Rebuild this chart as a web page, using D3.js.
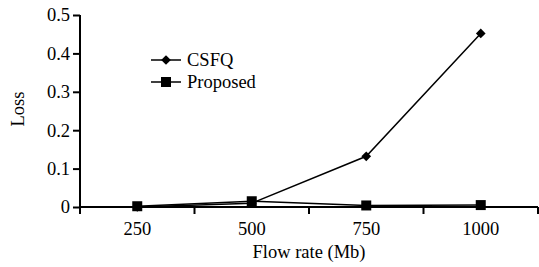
<!DOCTYPE html>
<html>
<head>
<meta charset="utf-8">
<script src="https://cdn.jsdelivr.net/npm/d3@7"></script>
<style>
  body { margin: 0; background: #fff; }
  text { font-family: "Liberation Serif", "Times New Roman", serif; fill: #000; }
</style>
</head>
<body>
<div id="chart"></div>
<script>
var categories = ["250", "500", "750", "1000"];
var csfq = [0.0, 0.01, 0.132, 0.452];
var proposed = [0.002, 0.015, 0.004, 0.005];
var yTicks = [0, 0.1, 0.2, 0.3, 0.4, 0.5];

var svgWidth = 539, svgHeight = 267;
var margin = { top: 15, right: 1, bottom: 60, left: 80 };
var width = svgWidth - margin.left - margin.right;
var height = svgHeight - margin.top - margin.bottom;
var fontSize = "18.5px";

var svg = d3.select("#chart").append("svg")
    .attr("width", svgWidth)
    .attr("height", svgHeight)
    .append("g")
    .attr("transform", "translate(" + margin.left + "," + margin.top + ")");

var x = d3.scaleBand().domain(categories).range([0, width]);
var y = d3.scaleLinear().domain([0, 0.5]).range([height, 0]);

// x axis: ticks on band edges, labels at band centres
var xAxis = svg.append("g").attr("transform", "translate(0," + height + ")");
xAxis.append("line").attr("x1", 0).attr("x2", width).attr("stroke", "#000").attr("stroke-width", 2);
var edges = categories.map(function(c) { return x(c); }).concat([width]);
xAxis.selectAll(".xt").data(edges).enter().append("line")
    .attr("x1", function(d) { return d; }).attr("x2", function(d) { return d; })
    .attr("y1", 0).attr("y2", 7)
    .attr("stroke", "#000").attr("stroke-width", 2);
xAxis.selectAll(".xl").data(categories).enter().append("text")
    .attr("x", function(d) { return x(d) + x.bandwidth() / 2; })
    .attr("y", 28)
    .attr("text-anchor", "middle")
    .style("font-size", fontSize)
    .text(function(d) { return d; });

// y axis
var yAxis = svg.append("g")
    .call(d3.axisLeft(y).tickValues(yTicks).tickSize(7).tickFormat(function(d) { return d === 0 ? "0" : d3.format(".1f")(d); }));
yAxis.select(".domain").attr("stroke-width", 2).attr("d", "M0," + (height + 6) + "V0");
yAxis.selectAll(".tick line").attr("stroke-width", 2);
yAxis.selectAll(".tick text")
    .attr("x", -10)
    .style("font-family", "Liberation Serif, serif")
    .style("font-size", fontSize);

svg.append("text")
    .attr("transform", "translate(" + (-56) + "," + (height / 2 - 2) + ") rotate(-90)")
    .attr("text-anchor", "middle")
    .style("font-size", fontSize)
    .text("Loss");

svg.append("text")
    .attr("x", width / 2)
    .attr("y", 51)
    .attr("transform", "translate(0," + height + ")")
    .attr("text-anchor", "middle")
    .style("font-size", fontSize)
    .text("Flow rate (Mb)");

var line = d3.line()
    .x(function(d, i) { return x(categories[i]) + x.bandwidth() / 2; })
    .y(function(d) { return y(d); });

var diamond = d3.symbol().type(d3.symbolDiamond2).size(60);
var square = d3.symbol().type(d3.symbolSquare).size(100);

function drawSeries(values, sym) {
    svg.append("path")
        .attr("d", line(values))
        .attr("fill", "none")
        .attr("stroke", "#000")
        .attr("stroke-width", 1.5);
    svg.selectAll(null).data(values).enter().append("path")
        .attr("d", sym)
        .attr("transform", function(d, i) {
            return "translate(" + (x(categories[i]) + x.bandwidth() / 2) + "," + y(d) + ")";
        })
        .attr("fill", "#000");
}
drawSeries(csfq, diamond);
drawSeries(proposed, square);

// legend
var legend = [{ name: "CSFQ", sym: diamond, dy: 45 }, { name: "Proposed", sym: square, dy: 67 }];
var lg = svg.selectAll(".legend").data(legend).enter().append("g")
    .attr("transform", function(d) { return "translate(71," + d.dy + ")"; });
lg.append("line").attr("x1", 0).attr("x2", 30).attr("stroke", "#000").attr("stroke-width", 1.5);
lg.append("path").attr("d", function(d) { return d.sym(); }).attr("transform", "translate(15,0)").attr("fill", "#000");
lg.append("text").attr("x", 36).attr("y", 6).style("font-size", fontSize).text(function(d) { return d.name; });
</script>
</body>
</html>
